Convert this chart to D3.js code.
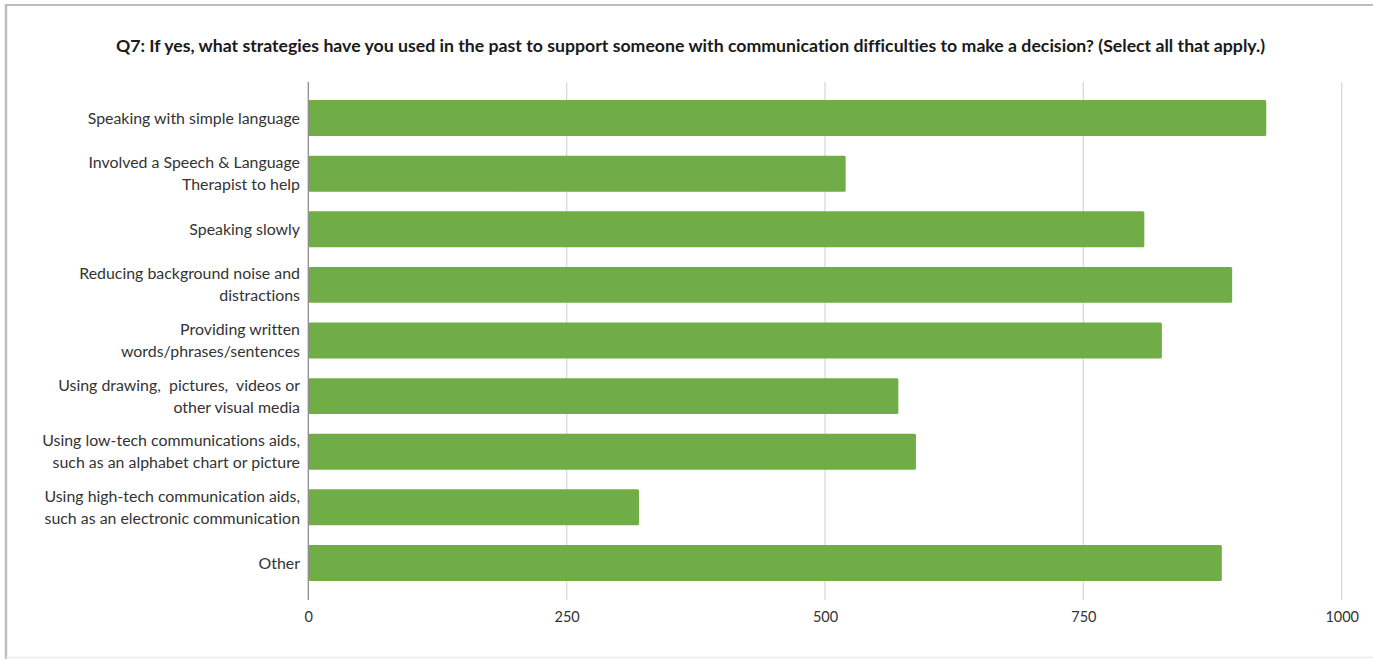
<!DOCTYPE html>
<html>
<head>
<meta charset="utf-8">
<script src="https://cdn.jsdelivr.net/npm/d3@7"></script>
<style>
  html, body { margin: 0; padding: 0; background: #fff; }
  svg { display: block; }
  text { font-family: Lato, "Open Sans", sans-serif; font-variant-ligatures: none; white-space: pre; }
</style>
</head>
<body>
<svg id="chart" width="1373" height="659"></svg>
<script>
// Survey responses for Q7
const chartTitle = "Q7: If yes, what strategies have you used in the past to support someone with communication difficulties to make a decision? (Select all that apply.)";

const categories = [
  ["Speaking with simple language"],
  ["Involved a Speech & Language", "Therapist to help"],
  ["Speaking slowly"],
  ["Reducing background noise and", "distractions"],
  ["Providing written", "words/phrases/sentences"],
  ["Using drawing,  pictures,  videos or", "other visual media"],
  ["Using low-tech communications aids,", "such as an alphabet chart or picture"],
  ["Using high-tech communication aids,", "such as an electronic communication"],
  ["Other"]
];

const responses = [927, 520, 809, 894, 826, 571, 588, 320, 884];

const tickValues = [0, 250, 500, 750, 1000];

const svg = d3.select("#chart");
const W = 1373, H = 659;

// frame around the chart
svg.append("rect").attr("x", 0).attr("y", 0).attr("width", W).attr("height", H).attr("fill", "#fff");
svg.append("line").attr("x1", 6).attr("x2", W).attr("y1", 5).attr("y2", 5)
  .attr("stroke", "#bdbdbd").attr("stroke-width", 2);
svg.append("line").attr("x1", 6).attr("x2", 6).attr("y1", 4).attr("y2", H)
  .attr("stroke", "#bdbdbd").attr("stroke-width", 2.5);
svg.append("line").attr("x1", 6).attr("x2", W).attr("y1", 657.5).attr("y2", 657.5)
  .attr("stroke", "#ececec").attr("stroke-width", 1.5);

// title
svg.append("text")
  .attr("x", 690.5).attr("y", 52)
  .attr("text-anchor", "middle")
  .attr("font-size", 17.7)
  .attr("font-weight", "bold")
  .attr("fill", "#1a1a1a")
  .text(chartTitle);

const plotTop = 82, plotBottom = 600;

const x = d3.scaleLinear().domain([0, 1000]).range([308.3, 1341.7]);
const y = d3.scaleBand()
  .domain(d3.range(categories.length))
  .range([90.2, 590.8])
  .paddingInner(0.353)
  .paddingOuter(0.1765);

// vertical gridlines
svg.append("g")
  .selectAll("line")
  .data(tickValues.filter(d => d > 0))
  .join("line")
  .attr("x1", d => x(d)).attr("x2", d => x(d))
  .attr("y1", plotTop).attr("y2", plotBottom)
  .attr("stroke", "#d9d9d9").attr("stroke-width", 1.3);

// bars
svg.append("g")
  .selectAll("rect")
  .data(responses)
  .join("rect")
  .attr("x", x(0))
  .attr("y", (d, i) => y(i))
  .attr("width", d => x(d) - x(0))
  .attr("height", y.bandwidth())
  .attr("rx", 1.5)
  .attr("fill", "#70ad47");

// category axis line
svg.append("line")
  .attr("x1", x(0)).attr("x2", x(0))
  .attr("y1", plotTop).attr("y2", plotBottom)
  .attr("stroke", "#8c8c8c").attr("stroke-width", 1.3);

// category labels (wrapped over one or two lines)
const labelG = svg.append("g");
categories.forEach((lines, i) => {
  const cy = y(i) + y.bandwidth() / 2;
  const lh = 22;
  const t = labelG.append("text")
    .attr("text-anchor", "end")
    .attr("font-size", 15.9)
    .attr("fill", "#333");
  lines.forEach((ln, j) => {
    t.append("tspan")
      .attr("x", 300)
      .attr("y", cy + (j - (lines.length - 1) / 2) * lh)
      .attr("dy", "0.35em")
      .text(ln);
  });
});

// value axis
const xAxis = d3.axisBottom(x).tickValues(tickValues).tickSize(0).tickPadding(0).tickFormat(d3.format("d"));
const axG = svg.append("g").attr("transform", `translate(0, ${plotBottom})`).call(xAxis);
axG.select(".domain").remove();
axG.selectAll("text")
  .attr("y", 17)
  .attr("dy", "0.35em")
  .attr("font-size", 14.5)
  .attr("font-family", "Lato, sans-serif")
  .style("font-variant-ligatures", "none")
  .attr("fill", "#333");
</script>
</body>
</html>
